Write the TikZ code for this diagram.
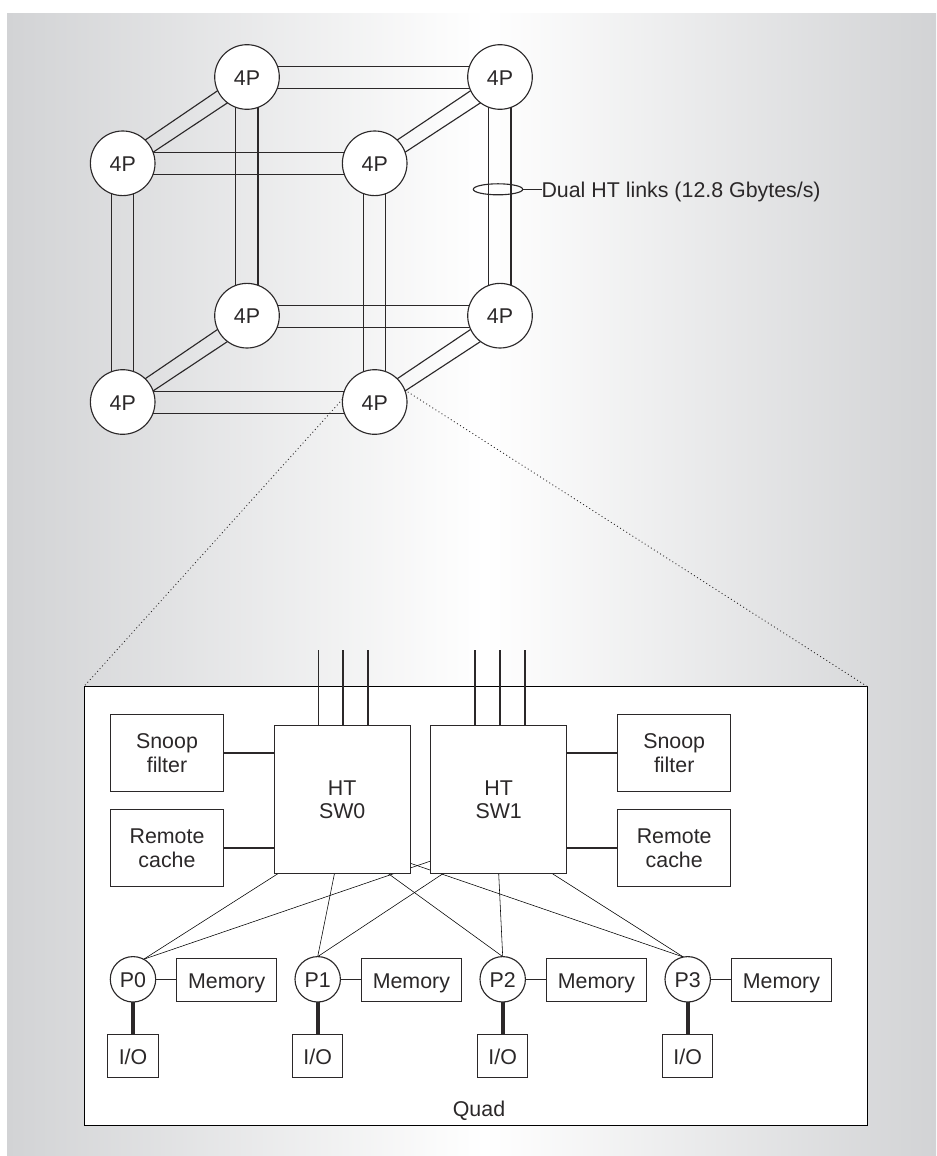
\documentclass[tikz,border=0pt]{standalone}
\usepackage{fontspec}
\setmainfont{Liberation Sans}
\usetikzlibrary{shapes.geometric,backgrounds}
\definecolor{ink}{HTML}{2B2829}
\definecolor{edgegray}{HTML}{D2D3D5}
\pgfdeclarehorizontalshading{sheet}{100bp}{color(0bp)=(edgegray); color(25bp)=(edgegray); color(50.7bp)=(white); color(75bp)=(edgegray); color(100bp)=(edgegray)}
\tikzset{
	every node/.style={text=ink, font=\fontsize{15.2}{17}\selectfont, inner sep=0pt, outer sep=0pt, align=center},
	oneline/.style={text height=11.5pt, text depth=0pt},
	cube/.style={oneline, circle, draw, fill=white, minimum size=1.615cm},
	cpu/.style={oneline, circle, draw, fill=white, minimum size=1.135cm},
	unit/.style={rectangle, draw, fill=white, minimum width=2.82cm, minimum height=1.945cm},
	switch/.style={rectangle, draw, fill=white, minimum width=3.405cm, minimum height=3.7cm},
	memory/.style={oneline, rectangle, draw, fill=white, minimum width=2.49cm, minimum height=1.085cm},
	iobox/.style={oneline, rectangle, draw, fill=white, minimum width=1.26cm, minimum height=1.09cm},
}
\begin{document}
\begin{tikzpicture}[x=0.025cm, y=-0.025cm, draw=ink, line width=0.8pt]
	\useasboundingbox (0,0) rectangle (936,1156);
	
	\begin{scope}[on background layer]
		\shade[shading=sheet, draw=none] (7,14) rectangle (936,1156);
		\node[rectangle, draw, fill=white, minimum width=19.58cm, minimum height=10.96cm] (quad) at (475.6,905.8) {};
	\end{scope}
	
	% the cube
	\foreach \n/\x/\y in {btl/247/77, btr/500/77, ftl/122.7/163.3, ftr/374.7/163.3, bbl/247/315.7, bbr/500/315.7, fbl/122.7/402, fbr/374.7/402}
		\node[cube] (\n) at (\x,\y) {4P};
	
	\foreach \a/\b in {btl/btr, ftl/ftr, bbl/bbr, fbl/fbr} {
		\draw (\a.19) -- (\b.161);
		\draw (\a.-21) -- (\b.-159);
	}
	\foreach \a/\b in {btl/bbl, btr/bbr, ftl/fbl, ftr/fbr} {
		\draw (\a.-111) -- (\b.111);
		\draw (\a.-70) -- (\b.70);
	}
	\foreach \a/\b in {ftl/btl, ftr/btr, fbl/bbl, fbr/bbr} {
		\draw (\a.46) -- (\b.205);
		\draw (\a.20) -- (\b.233);
	}
	
	\node[ellipse, draw, minimum width=1.235cm, minimum height=0.275cm] (ring) at (498,189.3) {};
	\node[oneline, anchor=west] (dual) at (541.5,189.3) {Dual HT links (12.8 Gbytes/s)};
	\draw (ring.east) -- (dual.west);
	
	\draw[line width=0.6pt, dash pattern=on 0.7pt off 1.9pt] (fbr.175) -- (quad.north west);
	\draw[line width=0.6pt, dash pattern=on 0.7pt off 1.9pt] (fbr.22) -- (quad.north east);
	
	% the quad
	\node[switch] (sw0) at (342.2,799.7) {HT\\SW0};
	\node[switch] (sw1) at (498.7,799.7) {HT\\SW1};
	\node[unit] (snoop0) at (167,753) {Snoop\\filter};
	\node[unit] (cache0) at (167,848) {Remote\\cache};
	\node[unit] (snoop1) at (674.2,753) {Snoop\\filter};
	\node[unit] (cache1) at (674.2,848) {Remote\\cache};
	
	\draw (snoop0.east) -- (sw0.west |- snoop0.east);
	\draw (cache0.east) -- (sw0.west |- cache0.east);
	\draw (snoop1.west) -- (sw1.east |- snoop1.west);
	\draw (cache1.west) -- (sw1.east |- cache1.west);
	
	\foreach \x in {318.7,343,368}
		\draw (\x,650) -- (\x,650 |- sw0.north);
	\foreach \x in {475,500,525}
		\draw (\x,650) -- (\x,650 |- sw1.north);
	
	\foreach \i/\x in {0/133, 1/317.7, 2/502.7, 3/687.7} {
		\node[cpu] (p\i) at (\x,979.3) {P\i};
		\node[memory] (mem\i) at ({\x+93.7},980) {Memory};
		\node[iobox] (io\i) at (\x,1056) {I/O};
		\draw (p\i) -- (p\i -| mem\i.west);
		\draw[line width=2.8pt] (p\i) -- (io\i);
	}
	
	\begin{scope}[on background layer]
		\draw (sw0.-131) -- (p0.62);
		\draw (sw0.-96) -- (p1.north);
		\draw (sw0.-58.2) -- (p2.north);
		\draw (sw0.-43.8) -- (p3.101);
		\draw (sw1.-138) -- (p0.62);
		\draw (sw1.-127) -- (p1.north);
		\draw (sw1.-90.3) -- (p2.north);
		\draw (sw1.-54.4) -- (p3.101);
	\end{scope}
	
	\node[oneline] (quadname) at (479,1108) {Quad};
\end{tikzpicture}
\end{document}
